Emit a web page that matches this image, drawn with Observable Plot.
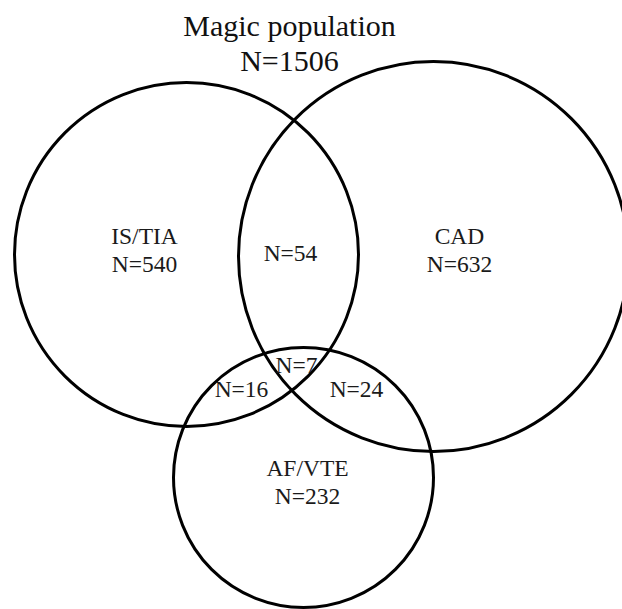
<!DOCTYPE html>
<html>
<head>
<meta charset="utf-8">
<script src="https://cdn.jsdelivr.net/npm/d3@7"></script>
<script src="https://cdn.jsdelivr.net/npm/@observablehq/plot@0.6"></script>
<style>
  html, body { margin: 0; padding: 0; background: #fff; overflow: hidden; }
</style>
</head>
<body>
<div id="chart"></div>
<script>
// Venn data
const titleLines = ["Magic population", "N=1506"];
const sets = ["IS/TIA", "CAD", "AF/VTE"];
const setCounts = [540, 632, 232];
// circle geometry (diagram units)
const circleCx = [186, 433, 303];
const circleCy = [254, 256, 477];
const circleR = [172, 195, 130];
// set-only label anchors
const setLabelX = [144, 459, 307];
const setLabelY = [271, 271, 503];
// overlap regions
const overlapNames = ["IS/TIA ∩ CAD", "IS/TIA ∩ AF/VTE", "CAD ∩ AF/VTE", "All three"];
const overlapCounts = [54, 16, 24, 7];
const overlapX = [290, 241, 356, 296];
const overlapY = [260, 396, 396, 372];

const circles = sets.map((s, i) => ({set: s, x: circleCx[i], y: circleCy[i], r: circleR[i]}));
const setLabels = sets.map((s, i) => ({text: `${s}\nN=${setCounts[i]}`, x: setLabelX[i], y: setLabelY[i]}));
const overlaps = overlapNames.map((n, i) => ({name: n, text: `N=${overlapCounts[i]}`, x: overlapX[i], y: overlapY[i]}));
const title = [{text: titleLines.join("\n"), x: 289, y: 70}];

const font = "'Liberation Serif', 'Times New Roman', serif";
const chart = Plot.plot({
  width: 622,
  height: 609,
  margin: 0,
  x: {domain: [0, 622], range: [0, 622], axis: null},
  y: {domain: [0, 609], range: [0, 609], axis: null},
  r: {type: "identity"},
  style: {fontFamily: font, background: "#fff"},
  marks: [
    Plot.dot(circles, {x: "x", y: "y", r: "r", stroke: "#000", strokeWidth: 3, fill: "none"}),
    Plot.text(title, {x: "x", y: "y", text: "text", fontSize: 30, lineHeight: 1.167, lineAnchor: "bottom", fill: "#111", fontFamily: font}),
    Plot.text(setLabels, {x: "x", y: "y", text: "text", fontSize: 23.5, lineHeight: 1.19, lineAnchor: "bottom", fill: "#1a1a1a", fontFamily: font}),
    Plot.text(overlaps, {x: "x", y: "y", text: "text", fontSize: 23.5, lineAnchor: "bottom", fill: "#1a1a1a", fontFamily: font})
  ]
});
document.getElementById("chart").appendChild(chart);
</script>
</body>
</html>
